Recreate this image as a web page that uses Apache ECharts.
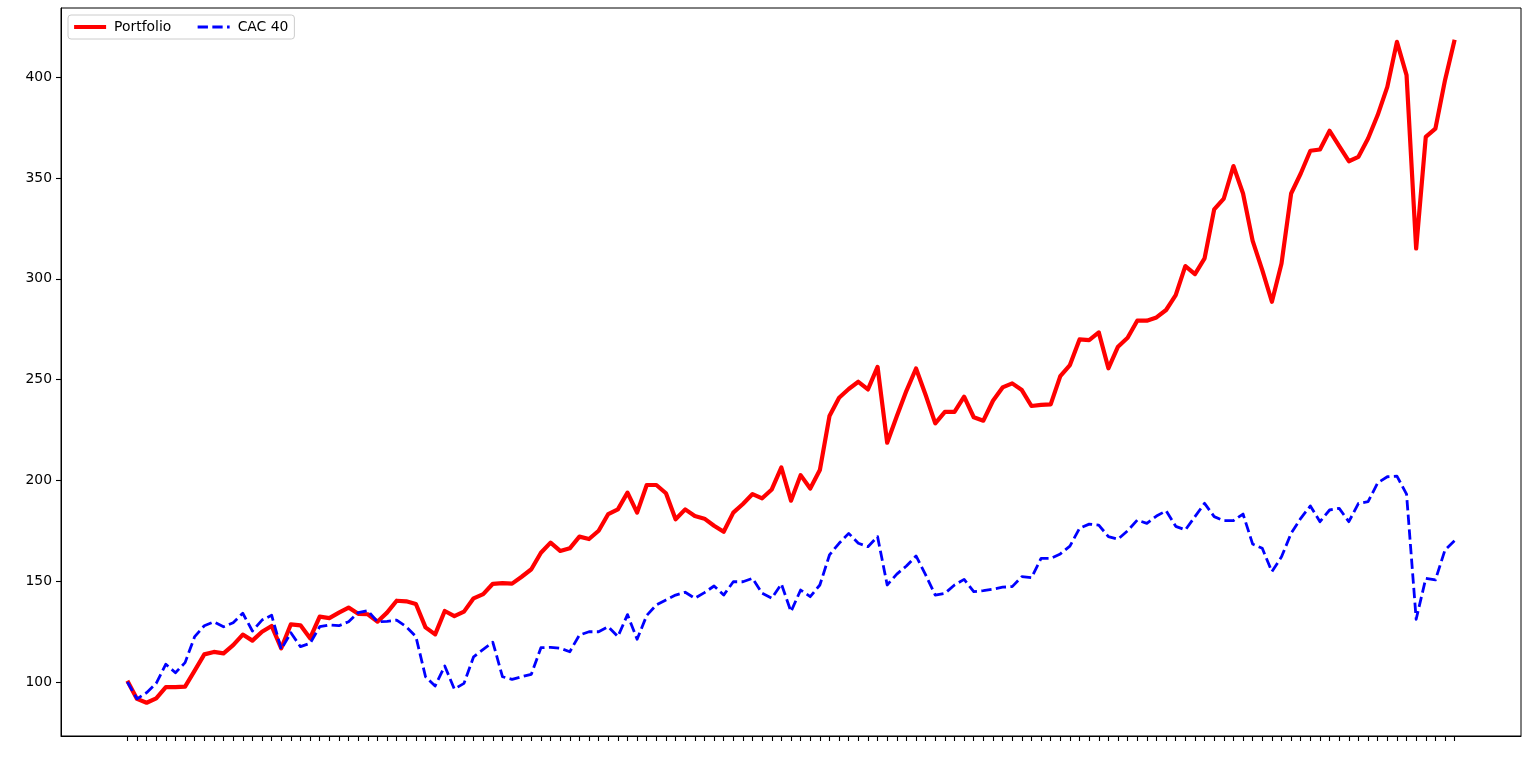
<!DOCTYPE html>
<html>
<head>
<meta charset="utf-8">
<script src="https://cdn.jsdelivr.net/npm/echarts@6/dist/echarts.min.js"></script>
<style>
html,body{margin:0;padding:0;background:#fff;}
#chart{width:1536px;height:767px;}
</style>
</head>
<body>
<div id="chart"></div>
<script>
// Period index (monthly observations, no labels shown on the x axis)
const periods = Array.from({length: 139}, (_, i) => i);

const portfolio = [
  100.6, 91.6, 89.7, 91.9, 97.4, 97.4, 97.7, 105.6, 113.7, 114.9,
  114.2, 118.3, 123.5, 120.5, 124.9, 127.8, 116.7, 128.6, 128.1, 121.7,
  132.4, 131.7, 134.4, 136.9, 133.8, 133.6, 129.9, 134.4, 140.3, 140.0,
  138.7, 127.1, 123.6, 135.2, 132.7, 134.9, 141.5, 143.6, 148.7, 149.0,
  148.8, 152.2, 155.9, 164.1, 169.1, 165.0, 166.3, 172.1, 170.9, 175.0,
  183.3, 185.6, 193.9, 184.0, 197.7, 197.7, 193.6, 180.7, 185.6, 182.3,
  181.0, 177.5, 174.5, 184.0, 188.3, 193.2, 191.1, 195.5, 206.4, 189.9,
  202.6, 196.0, 205.1, 231.9, 241.0, 245.3, 248.9, 245.1, 256.3, 218.7,
  231.8, 244.4, 255.5, 242.3, 228.3, 234.0, 234.0, 241.5, 231.3, 229.6,
  239.5, 246.1, 248.1, 244.8, 236.9, 237.4, 237.7, 251.7, 257.2, 269.9,
  269.6, 273.4, 255.6, 266.3, 270.7, 279.2, 279.2, 280.8, 284.5, 291.9,
  306.3, 302.3, 310.1, 334.4, 339.8, 355.9, 342.3, 318.8, 304.3, 288.6,
  307.6, 342.3, 352.2, 363.5, 364.1, 373.4, 365.8, 358.3, 360.5, 369.6,
  381.2, 395.2, 417.5, 401.0, 315.0, 370.4, 374.5, 398.5, 418.6
];

const cac40 = [
  100.0, 91.6, 94.7, 99.3, 108.8, 104.6, 109.6, 122.5, 127.9, 129.8,
  127.4, 129.4, 134.1, 125.3, 130.7, 133.1, 116.2, 124.4, 117.5, 119.2,
  127.4, 128.3, 127.9, 129.9, 134.4, 135.4, 129.9, 130.1, 130.7, 127.4,
  122.5, 102.6, 98.0, 107.9, 96.5, 99.3, 112.5, 116.2, 119.7, 102.6,
  101.3, 102.6, 103.8, 117.0, 117.2, 116.7, 115.0, 123.3, 124.9, 124.9,
  127.4, 122.5, 133.4, 121.2, 133.0, 138.2, 140.7, 143.1, 144.5, 141.5,
  144.3, 147.6, 143.1, 149.7, 149.7, 151.4, 144.0, 141.5, 148.6, 134.9,
  145.6, 142.3, 148.1, 163.0, 168.8, 173.7, 168.8, 167.1, 172.1, 148.1,
  153.5, 157.5, 162.5, 153.1, 143.1, 144.0, 148.1, 150.9, 144.8, 145.3,
  146.0, 147.0, 147.3, 152.2, 151.7, 161.3, 161.3, 163.5, 167.4, 176.2,
  178.3, 177.8, 172.1, 170.8, 175.0, 180.3, 178.7, 182.3, 184.9, 177.2,
  175.4, 182.0, 188.6, 182.0, 180.0, 180.0, 183.3, 168.4, 166.3, 154.7,
  162.1, 173.7, 181.2, 187.3, 179.5, 185.3, 186.1, 179.5, 188.6, 189.4,
  198.8, 201.8, 202.1, 193.2, 131.1, 151.4, 150.6, 165.5, 170.1
];

const yTicks = [100, 150, 200, 250, 300, 350, 400];
const seriesNames = ['Portfolio', 'CAC 40'];

const chart = echarts.init(document.getElementById('chart'), null, {renderer: 'canvas'});
const font = 'DejaVu Sans';

chart.setOption({
  animation: false,
  backgroundColor: '#ffffff',
  grid: {
    left: 61, right: 15, top: 8, bottom: 31,
    show: true, borderColor: '#000', borderWidth: 1, backgroundColor: 'transparent'
  },
  legend: {
    left: 68, top: 15,
    orient: 'horizontal',
    data: [
      {name: seriesNames[0], lineStyle: {width: 4.2}},
      {name: seriesNames[1], lineStyle: {width: 2.8}}
    ],
    itemWidth: 32, itemHeight: 14, itemGap: 25,
    padding: [5, 6, 5, 4],
    itemStyle: {opacity: 0},
    backgroundColor: 'rgba(255,255,255,0.8)',
    borderColor: '#cccccc', borderWidth: 1, borderRadius: 3,
    textStyle: {fontFamily: font, fontSize: 13.9, color: '#000', padding: [0, 0, 0, 3]}
  },
  xAxis: {
    type: 'value',
    min: -6.9, max: 144.9,
    axisLine: {show: true, onZero: false, lineStyle: {color: '#000', width: 1}},
    axisTick: {show: true, inside: false, length: 5, lineStyle: {color: '#000', width: 1.1}, customValues: periods},
    axisLabel: {show: false, customValues: periods},
    splitLine: {show: false}
  },
  yAxis: {
    type: 'value',
    min: 73.2, max: 434.3,
    axisLine: {show: true, onZero: false, lineStyle: {color: '#000', width: 1}},
    axisTick: {show: true, inside: false, length: 5, lineStyle: {color: '#000', width: 1.1}, customValues: yTicks},
    axisLabel: {show: true, margin: 9, color: '#000', fontFamily: font, fontSize: 13.9, customValues: yTicks},
    splitLine: {show: false}
  },
  series: [
    {
      name: seriesNames[0], type: 'line',
      data: portfolio.map((v, i) => [periods[i], v]),
      symbol: 'none', showSymbol: false,
      itemStyle: {color: '#ff0000'},
      lineStyle: {color: '#ff0000', width: 4.2, join: 'round', cap: 'butt'},
      z: 2
    },
    {
      name: seriesNames[1], type: 'line',
      data: cac40.map((v, i) => [periods[i], v]),
      symbol: 'none', showSymbol: false,
      itemStyle: {color: '#0000ff'},
      lineStyle: {color: '#0000ff', width: 2.8, type: [10.3, 4.4], join: 'round', cap: 'butt'},
      z: 3
    }
  ]
});
</script>
</body>
</html>
